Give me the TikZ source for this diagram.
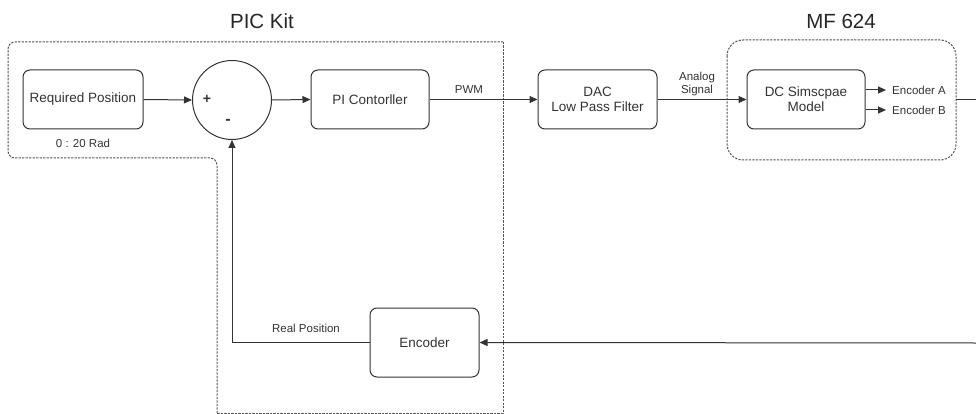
\documentclass[tikz,border=0pt]{standalone}
\usepackage{fontspec}
\setmainfont{Liberation Sans}
\usetikzlibrary{arrows.meta}
\definecolor{ink}{HTML}{333333}
\definecolor{dotc}{HTML}{555555}
\begin{document}
\begin{tikzpicture}[x=1pt,y=-1pt,
  box/.style={draw=ink,line width=1pt,rounded corners=7pt,text=ink,font=\fontsize{13.5}{15}\selectfont,align=center,inner sep=0pt},
  lbl/.style={text=ink,font=\fontsize{11.5}{12.5}\selectfont,align=center,inner sep=0pt},
  ttl/.style={text=black!85,font=\fontsize{20.5}{22}\selectfont,inner sep=0pt},
  conn/.style={draw=ink,line width=1pt},
  arr/.style={conn,-{Triangle[length=8pt,width=7pt]}},
  region/.style={draw=dotc,line width=1pt,dash pattern=on 2.2pt off 1.3pt}]
\useasboundingbox (0,0) rectangle (976,414);
% regions
\draw[region,rounded corners=7pt] (217,413) -- (217,158) -- (8,158) -- (8,42) -- (503,42);
\draw[region] (503,42) -- (503,413) -- (217,413);
\draw[region,rounded corners=16pt] (727,40) rectangle (956,160);
\node[ttl] (t1) at (262,21) {PIC Kit};
\node[ttl] (t2) at (841,21) {MF 624};
% nodes
\node[box,minimum width=120pt,minimum height=59pt] (req) at (83,99.5) {Required Position};
\node[lbl] (range) at (83,143) {0 : 20 Rad};
\node[draw=ink,line width=1pt,circle,minimum size=79pt,inner sep=0pt] (sum) at (232,100) {};
\node[text=ink,font=\fontsize{14}{15}\selectfont\bfseries,inner sep=0pt] (plus) at (207,99) {+};
\node[text=ink,font=\fontsize{16}{16}\selectfont\bfseries,inner sep=0pt] (minus) at (228,122) {-};
\node[box,minimum width=118pt,minimum height=59pt] (pi) at (370,99.5) {PI Contorller};
\node[box,minimum width=119pt,minimum height=59pt] (dac) at (597.5,99.5) {DAC\\Low Pass Filter};
\node[box,minimum width=118pt,minimum height=59pt] (dc) at (806,99.5) {DC Simscpae\\Model};
\node[lbl,anchor=west] (encA) at (892,90) {Encoder A};
\node[lbl,anchor=west] (encB) at (892,110) {Encoder B};
\node[box,minimum width=109pt,minimum height=69pt] (enc) at (424.5,342.5) {Encoder};
% labels
\node[lbl] (pwm) at (469,90) {PWM};
\node[lbl] (analog) at (697,84) {Analog\\Signal};
\node[lbl] (realpos) at (306,328) {Real Position};
% connectors
\coordinate (mfr) at (956,100);
\coordinate (outr) at (976,100);
\coordinate (inr) at (976,343);
\draw[arr] (req.east) -- (sum.west);
\draw[arr] (sum.east) -- (pi.west);
\draw[arr] (pi.east) -- (dac.west);
\draw[arr] (dac.east) -- (dc.west);
\draw[arr] (dc.east |- encA.west) -- ([xshift=-6pt]encA.west);
\draw[arr] (dc.east |- encB.west) -- ([xshift=-6pt]encB.west);
\draw[conn] (mfr) -- (outr);
\draw[arr] (inr) -- (enc.east);
\draw[arr] (enc.west) -| (sum.south);
\end{tikzpicture}
\end{document}
